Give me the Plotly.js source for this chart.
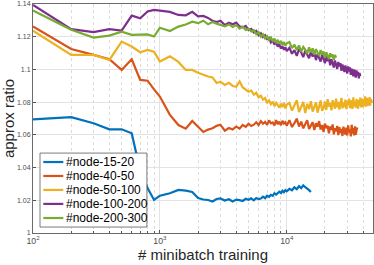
<!DOCTYPE html>
<html><head><meta charset="utf-8">
<script src="https://cdn.plot.ly/plotly-3.0.1.min.js"></script>
<style>html,body{margin:0;padding:0;background:#fff}#chart{width:374px;height:265px}</style>
</head><body><div id="chart"></div>
<script>
// minibatch steps (x); each series uses the first N of them
const steps = [100,200,300,400,500,600,700,800,900,1000,
  1200,1400,1600,1800,2000,2200,2400,2600,2800,3000,
  3250,3500,3750,4000,4250,4500,4750,5000,5250,5500,5750,6000,6250,6500,6750,7000,
  7250,7500,7750,8000,8250,8500,8750,9000,9250,9500,9750,10000,
  10500,11000,11500,12000,12500,13000,13500,14000,14500,15000,15500,16000,16500,17000,
  17500,18000,18500,19000,19500,20000,20500,21000,21500,22000,22500,23000,23500,24000,
  24500,25000,25500,26000,26500,27000,27500,28000,28500,29000,29500,30000,30500,31000,
  31500,32000,32500,33000,33500,34000,34500,35000,35500,36000,36500,37000,37500,38000,
  38500,39000,39500,40000,40500,41000,41500,42000,42500,43000,43500,44000,44500,45000,
  45500,46000,46500,47000];

const names = ['#node-15-20','#node-40-50','#node-50-100','#node-100-200','#node-200-300'];
const colors = ['#0072BD','#D95319','#EDB120','#7E2F8E','#77AC30'];

const node15_20 = [1.0695,1.0708,1.0671,1.0634,1.0634,1.0610,1.0380,1.0275,1.0202,1.0228,
  1.0243,1.0263,1.0259,1.0251,1.0214,1.0205,1.0202,1.0193,1.0208,1.0211,
  1.0198,1.0206,1.0193,1.0204,1.0201,1.0196,1.0209,1.0203,1.0212,1.0200,1.0214,1.0207,
  1.0211,1.0222,1.0213,1.0228,1.0221,1.0233,1.0227,1.0243,1.0235,1.0241,1.0252,1.0244,
  1.0258,1.0249,1.0262,1.0255,
  1.0270,1.0261,1.0279,1.0268,1.0286,1.0274,1.0291,1.0280,1.0272,1.0262,1.0250];

const node40_50 = [1.1262,1.1125,1.1089,1.1062,1.0997,1.1062,1.0936,1.0931,1.0878,1.0834,
  1.0722,1.0660,1.0638,1.0685,1.0650,1.0618,1.0632,1.0640,1.0655,1.0662,
  1.0625,1.0642,1.0633,1.0651,1.0638,1.0660,1.0649,1.0668,1.0654,1.0662,1.0677,1.0660,
  1.0684,1.0668,1.0679,1.0661,1.0688,1.0670,1.0676,1.0658,1.0690,1.0665,1.0681,1.0659,
  1.0686,1.0669,1.0677,1.0656,
  1.0690,1.0648,1.0672,1.0699,1.0651,1.0681,1.0640,1.0668,1.0690,1.0636,
  1.0662,1.0677,1.0629,1.0671,1.0650,1.0684,1.0633,1.0660,1.0618,1.0669,
  1.0641,1.0656,1.0609,1.0652,1.0631,1.0664,1.0603,1.0640,1.0622,1.0655,
  1.0598,1.0647,1.0612,1.0636,1.0593,1.0650,1.0620,1.0602,1.0644,1.0596,
  1.0658,1.0615,1.0634,1.0590,1.0662,1.0608,1.0641,1.0597,1.0652,1.0600,
  1.0628,1.0645];

const node50_100 = [1.1237,1.1089,1.1089,1.1058,1.1170,1.1140,1.1105,1.1119,1.1109,1.1048,
  1.1080,1.1046,1.0997,1.0997,1.0980,1.0966,1.0957,1.0951,1.0917,1.0925,
  1.0905,1.0918,1.0899,1.0894,1.0926,1.0890,1.0876,1.0864,1.0871,1.0846,1.0858,1.0829,
  1.0840,1.0815,1.0825,1.0797,1.0810,1.0788,1.0803,1.0775,1.0795,1.0781,1.0766,1.0791,
  1.0770,1.0796,1.0762,1.0784,
  1.0795,1.0748,1.0781,1.0812,1.0740,1.0768,1.0802,1.0733,1.0790,1.0758,
  1.0806,1.0742,1.0771,1.0799,1.0736,1.0785,1.0810,1.0747,1.0765,1.0803,
  1.0752,1.0818,1.0773,1.0795,1.0750,1.0812,1.0783,1.0760,1.0821,1.0768,
  1.0802,1.0755,1.0790,1.0826,1.0762,1.0798,1.0771,1.0815,1.0757,1.0808,
  1.0780,1.0822,1.0763,1.0796,1.0811,1.0759,1.0830,1.0775,1.0804,1.0766,
  1.0819,1.0787,1.0760,1.0813,1.0779,1.0828,1.0768,1.0801,1.0822,1.0770,
  1.0812,1.0784,1.0835,1.0773,1.0806,1.0826,1.0776,1.0815,1.0792,1.0831,
  1.0778,1.0820,1.0797,1.0812];

const node100_200 = [1.1394,1.1246,1.1228,1.1246,1.1237,1.1329,1.1313,1.1354,1.1364,1.1358,
  1.1352,1.1333,1.1331,1.1352,1.1324,1.1327,1.1315,1.1297,1.1290,1.1298,
  1.1272,1.1285,1.1276,1.1286,1.1263,1.1257,1.1266,1.1240,1.1248,1.1226,1.1236,1.1209,
  1.1221,1.1198,1.1209,1.1186,1.1193,1.1165,1.1178,1.1152,1.1166,1.1140,1.1153,1.1128,
  1.1142,1.1120,1.1136,1.1112,
  1.1132,1.1096,1.1118,1.1083,1.1125,1.1104,1.1075,1.1116,1.1090,1.1068,
  1.1109,1.1079,1.1101,1.1057,1.1094,1.1071,1.1048,1.1090,1.1062,1.1038,
  1.1081,1.1050,1.1072,1.1025,1.1063,1.1040,1.1012,1.1055,1.1028,1.1003,
  1.1046,1.1018,1.1039,1.0992,1.1030,1.1008,1.0984,1.1024,1.0997,1.0975,
  1.1019,1.0988,1.1012,1.0967,1.1004,1.0981,1.0958,1.1000,1.0972,1.0950,
  1.0994,1.0962,1.0985,1.0946,1.0978,1.0958];

const node200_300 = [1.1360,1.1242,1.1195,1.1207,1.1231,1.1211,1.1213,1.1214,1.1201,1.1255,
  1.1235,1.1262,1.1275,1.1292,1.1283,1.1298,1.1276,1.1290,1.1280,1.1272,
  1.1264,1.1275,1.1260,1.1271,1.1250,1.1262,1.1241,1.1249,1.1232,1.1240,1.1216,1.1227,
  1.1200,1.1214,1.1190,1.1202,1.1181,1.1195,1.1172,1.1188,1.1166,1.1180,1.1158,1.1174,
  1.1150,1.1167,1.1146,1.1160,
  1.1168,1.1130,1.1152,1.1119,1.1147,1.1108,1.1138,1.1122,1.1096,1.1135,
  1.1104,1.1129,1.1090,1.1124,1.1100,1.1083,1.1118,1.1092,1.1110,1.1071,
  1.1105,1.1084,1.1063,1.1099,1.1075,1.1092,1.1057,1.1088,1.1072];

const series = [node15_20, node40_50, node50_100, node100_200, node200_300];

const traces = series.map((ys, i) => ({
  x: steps.slice(0, ys.length),
  y: ys,
  type: 'scatter',
  mode: 'lines',
  name: names[i],
  showlegend: false,
  line: {color: colors[i], width: 2.2}
}));

const fam = 'Liberation Sans, Arial, sans-serif';
const tickFont = {family: fam, size: 7, color: '#4d4d4d'};
const titleFont = {family: fam, size: 15, color: '#262626'};

// legend drawn as paper-positioned shapes and text
const legX0 = 0.0206, legX1 = 0.335, legY0 = 0.026, legY1 = 0.349;
const rowY = [0.310, 0.249, 0.188, 0.127, 0.0655];
const shapes = [{type: 'rect', xref: 'paper', yref: 'paper', x0: legX0, x1: legX1, y0: legY0, y1: legY1,
  fillcolor: '#fff', line: {color: '#5a5a5a', width: 0.8}, layer: 'above'}];
const annotations = [];
names.forEach((nm, i) => {
  shapes.push({type: 'line', xref: 'paper', yref: 'paper', x0: 0.0303, x1: 0.0891, y0: rowY[i], y1: rowY[i],
    line: {color: colors[i], width: 2.2}, layer: 'above'});
  annotations.push({xref: 'paper', yref: 'paper', x: 0.092, y: rowY[i], xanchor: 'left', yanchor: 'middle',
    text: nm, showarrow: false, font: {family: fam, size: 12, color: '#000'}});
});

const layout = {
  width: 374, height: 265,
  margin: {l: 33, r: 1, t: 4, b: 32},
  paper_bgcolor: '#fff', plot_bgcolor: '#fff',
  showlegend: false,
  shapes: shapes,
  annotations: annotations,
  xaxis: {
    type: 'log', range: [2, 4.68], dtick: 1, exponentformat: 'power',
    showgrid: true, gridcolor: '#e3e3e3', gridwidth: 1,
    minor: {showgrid: true, gridcolor: '#dcdcdc', griddash: 'dot', ticks: 'inside', ticklen: 2, tickcolor: '#555'},
    ticks: 'inside', ticklen: 3, tickcolor: '#555',
    showline: true, mirror: true, linecolor: '#6b6b6b', linewidth: 1,
    zeroline: false, tickfont: tickFont,
    title: {text: '# minibatch training', font: titleFont, standoff: 3}
  },
  yaxis: {
    range: [1, 1.14], dtick: 0.02,
    showgrid: true, gridcolor: '#e3e3e3', gridwidth: 1,
    ticks: 'inside', ticklen: 3, tickcolor: '#555',
    showline: true, mirror: true, linecolor: '#6b6b6b', linewidth: 1,
    zeroline: false, tickfont: tickFont,
    title: {text: 'approx ratio', font: titleFont, standoff: 2}
  }
};

Plotly.newPlot('chart', traces, layout, {staticPlot: true, displayModeBar: false});
</script></body></html>
